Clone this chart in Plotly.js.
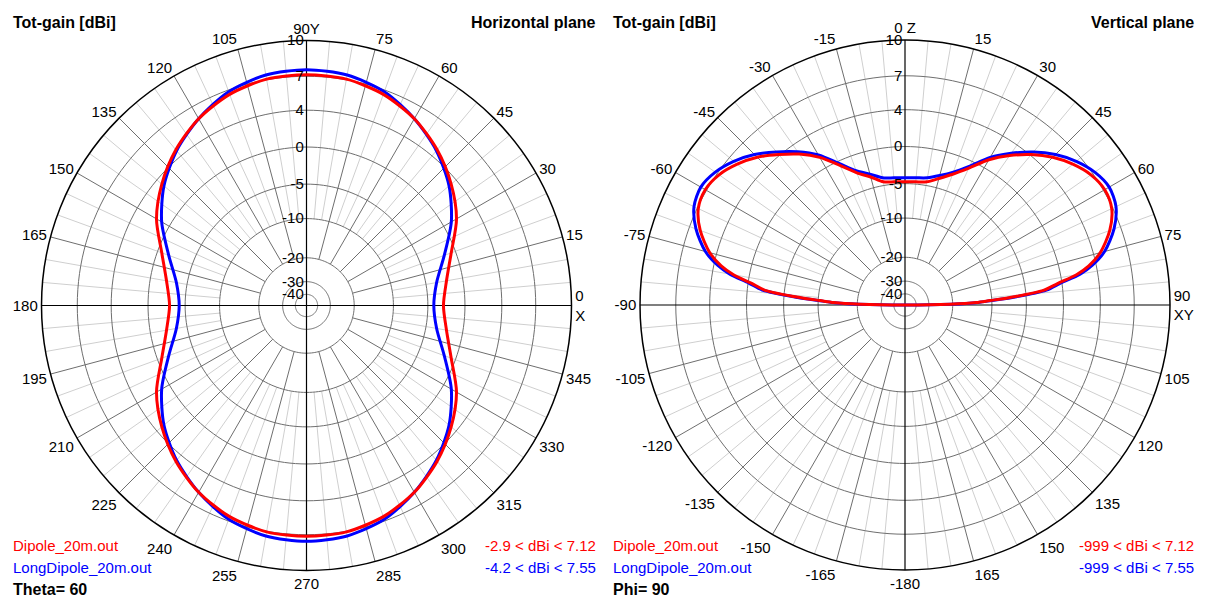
<!DOCTYPE html>
<html>
<head>
<meta charset="utf-8">
<script src="https://cdn.plot.ly/plotly-3.0.1.min.js"></script>
<style>html,body{margin:0;padding:0;background:#fff;}#chart{width:1206px;height:599px;}</style>
</head>
<body>
<div id="chart"></div>
<script>
// ---------- data ----------
// Horizontal plane (Theta = 60), azimuth angle in degrees (0 = X, counter-clockwise)
const hAngles = [0,10,20,30,40,50,60,70,80,90,100,110,120,130,140,150,160,170,180,190,200,210,220,230,240,250,260,270,280,290,300,310,320,330,340,350,360];
const hDipole = [-2.9,-2.2,-0.6,1.6,3.3,4.7,5.8,6.6,7.05,7.12,7.05,6.6,5.8,4.7,3.3,1.6,-0.6,-2.2,-2.9,-2.2,-0.6,1.6,3.3,4.7,5.8,6.6,7.05,7.12,7.05,6.6,5.8,4.7,3.3,1.6,-0.6,-2.2,-2.9];
const hLongDipole = [-4.2,-3.55,-1.6,0.95,3.0,4.6,5.8,6.85,7.4,7.55,7.4,6.85,5.8,4.6,3.0,0.95,-1.6,-3.55,-4.2,-3.55,-1.6,0.95,3.0,4.6,5.8,6.85,7.4,7.55,7.4,6.85,5.8,4.6,3.0,0.95,-1.6,-3.55,-4.2];

// Vertical plane (Phi = 90), angle from zenith in degrees (clockwise positive)
const vAngles = [-90,-89,-88,-87,-86,-84,-82,-80,-78,-75,-70,-65,-60,-55,-50,-45,-40,-35,-30,-25,-20,-15,-10,-5,0,5,10,15,20,25,30,35,40,45,50,55,60,65,70,75,78,80,82,84,86,87,88,89,90];
const vDipole = [-999,-21,-14,-10.5,-7.5,-2.4,-0.5,1.7,3.2,4.6,6.0,6.9,7.12,6.8,6.1,5.2,4.1,2.8,1.3,-0.6,-2.4,-3.5,-4.5,-4.7,-4.75,-4.7,-4.5,-3.7,-2.6,-1.0,1.0,2.6,4.1,5.2,6.1,6.8,7.12,6.9,6.0,4.6,3.2,1.7,-0.6,-2.6,-7.5,-10.5,-14,-21,-999];
const vLongDipole = [-999,-20.5,-13.5,-10,-7,-2.0,-0.1,2.1,3.6,5.0,6.4,7.3,7.55,7.2,6.5,5.55,4.4,3.1,1.6,-0.3,-2.1,-3.1,-3.95,-4.15,-4.2,-4.15,-3.95,-3.3,-2.3,-0.7,1.3,2.9,4.4,5.55,6.5,7.2,7.55,7.3,6.4,5.0,3.6,2.1,-0.2,-2.2,-7.0,-10.0,-13.5,-20.5,-999];

// radial scale (4nec2 style, non-linear dB scale)
const ringDb = [10,7,4,0,-5,-10,-20,-30,-40];
const ringFrac = [1,0.865,0.737,0.598,0.458,0.328,0.18,0.09,0.042];
const ringLabels = ['10','7','4','0','-5','-10','-20','-30','-40'];

// angular tick labels
const hTickVals = [0,15,30,45,60,75,90,105,120,135,150,165,180,195,210,225,240,255,270,285,300,315,330,345];
const hTickText = ['0<br>X','15','30','45','60','75','90Y','105','120','135','150','165','180','195','210','225','240','255','270','285','300','315','330','345'];
const vTickVals = [0,15,30,45,60,75,90,105,120,135,150,165,180,195,210,225,240,255,270,285,300,315,330,345];
const vTickText = ['0 Z','15','30','45','60','75','90<br>XY','105','120','135','150','165','-180','-165','-150','-135','-120','-105','-90','-75','-60','-45','-30','-15'];

const RED = '#ff0000', BLUE = '#0000ff';

// ---------- helpers ----------
function dbToR(db){
  if (db >= ringDb[0]) return 100*ringFrac[0];
  for (let i=0;i<ringDb.length-1;i++){
    const a=ringDb[i], b=ringDb[i+1];
    if (db<=a && db>=b){
      const t=(a-db)/(a-b);
      return 100*(ringFrac[i]+t*(ringFrac[i+1]-ringFrac[i]));
    }
  }
  const t=Math.max(0,(db+50)/10);
  return 100*ringFrac[ringFrac.length-1]*t;
}

function gridTraces(sub){
  const traces=[];
  const light={t:[],r:[]}, dark={t:[],r:[]}, rings={t:[],r:[]}, axes={t:[],r:[]};
  const rLight=dbToR(-10), rDark=dbToR(-20);
  for (let a=0;a<360;a+=5){
    if (a%90===0) continue;
    if (a%15===0){ dark.t.push(a,a,null); dark.r.push(rDark,100,null); }
    else { light.t.push(a,a,null); light.r.push(rLight,100,null); }
  }
  for (let i=1;i<ringFrac.length;i++){
    for (let a=0;a<=360;a+=2){ rings.t.push(a); rings.r.push(100*ringFrac[i]); }
    rings.t.push(null); rings.r.push(null);
  }
  axes.t.push(0,0,180,null,90,0,270); axes.r.push(100,0,100,null,100,0,100);
  const mk=(d,c,w)=>({type:'scatterpolar',subplot:sub,mode:'lines',theta:d.t,r:d.r,
    line:{color:c,width:w},hoverinfo:'skip',showlegend:false,connectgaps:false});
  traces.push(mk(light,'#cfcfcf',1));
  traces.push(mk(rings,'#6e6e6e',1));
  traces.push(mk(dark,'#6e6e6e',1));
  traces.push(mk(axes,'#000000',1.2));
  return traces;
}

function dataTrace(sub, th, db, color, shape){
  return {type:'scatterpolar',subplot:sub,mode:'lines',theta:th,r:db.map(dbToR),
    line:{color:color,width:3,shape:shape,smoothing:0.8},hoverinfo:'skip',showlegend:false};
}

const traces = [].concat(
  gridTraces('polar'),
  gridTraces('polar2'),
  [dataTrace('polar',hAngles,hLongDipole,BLUE,'spline'),
   dataTrace('polar',hAngles,hDipole,RED,'spline'),
   dataTrace('polar2',vAngles,vLongDipole,BLUE,'spline'),
   dataTrace('polar2',vAngles,vDipole,RED,'spline')]
);

const FONT='Liberation Sans, Arial, sans-serif';
const radial = {
  range:[0,100], angle:90, side:'counterclockwise', tickangle:90,
  tickvals:ringFrac.map(f=>100*f), ticktext:ringLabels, ticks:'',
  showgrid:false, showline:false, tickfont:{family:FONT,size:15,color:'#000'}
};
function angular(rot, dir, tv, tt){
  return {rotation:rot, direction:dir, tickvals:tv, ticktext:tt, ticks:'',
    showgrid:false, showline:true, linecolor:'#000', linewidth:1.5,
    tickfont:{family:FONT,size:15,color:'#000'}};
}

const W=1206, H=599;
const px=(x)=>x/W, py=(y)=>1-y/H;
function ann(text,x,y,xa,color,bold,size){
  return {text: bold?('<b>'+text+'</b>'):text, x:px(x), y:py(y), xref:'paper', yref:'paper',
    xanchor:xa, yanchor:'middle', showarrow:false,
    font:{family:FONT,size:size||15,color:color||'#000'}};
}

const layout = {
  width:W, height:H, margin:{l:0,r:0,t:0,b:0},
  paper_bgcolor:'#fff', showlegend:false,
  polar:{
    domain:{x:[(306.5-265)/W,(306.5+265)/W], y:[(293.5-265)/H,(293.5+265)/H]},
    bgcolor:'#fff', radialaxis:radial,
    angularaxis:angular(0,'counterclockwise',hTickVals,hTickText)
  },
  polar2:{
    domain:{x:[(905-265)/W,(905+265)/W], y:[(294-265)/H,(294+265)/H]},
    bgcolor:'#fff', radialaxis:radial,
    angularaxis:angular(90,'clockwise',vTickVals,vTickText)
  },
  annotations:[
    ann('Tot-gain [dBi]',11,23,'left','#000',true,16),
    ann('Horizontal plane',598,23,'right','#000',true,16),
    ann('Dipole_20m.out',11,545,'left',RED),
    ann('LongDipole_20m.out',11,567,'left',BLUE),
    ann('Theta= 60',11,589,'left','#000',true,16),
    ann('-2.9 &lt; dBi &lt; 7.12',598,545,'right',RED),
    ann('-4.2 &lt; dBi &lt; 7.55',598,567,'right',BLUE),
    ann('Tot-gain [dBi]',611,23,'left','#000',true,16),
    ann('Vertical plane',1196,23,'right','#000',true,16),
    ann('Dipole_20m.out',611,545,'left',RED),
    ann('LongDipole_20m.out',611,567,'left',BLUE),
    ann('Phi= 90',611,589,'left','#000',true,16),
    ann('-999 &lt; dBi &lt; 7.12',1196,545,'right',RED),
    ann('-999 &lt; dBi &lt; 7.55',1196,567,'right',BLUE)
  ]
};

Plotly.newPlot('chart', traces, layout, {staticPlot:true, displayModeBar:false});
</script>
</body>
</html>
